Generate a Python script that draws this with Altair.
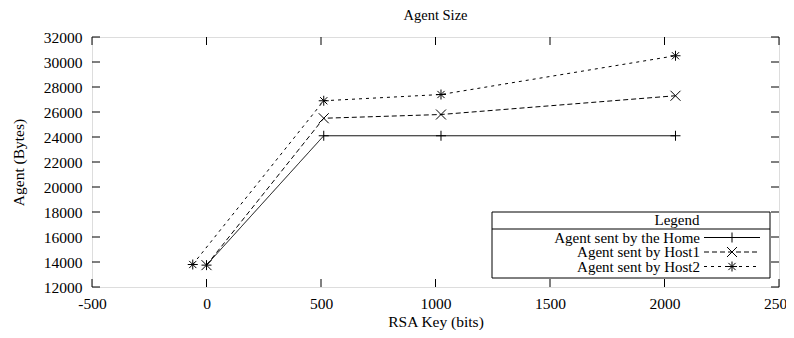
import altair as alt
import pandas as pd

# ---- data ----
series_names = ["Agent sent by the Home", "Agent sent by Host1", "Agent sent by Host2"]
key_home = [0, 512, 1024, 2048]
size_home = [13750, 24100, 24100, 24100]
key_host1 = [0, 512, 1024, 2048]
size_host1 = [13750, 25500, 25800, 27300]
key_host2 = [-60, 512, 1024, 2048]
size_host2 = [13800, 26900, 27400, 30500]
x_ticks = [-500, 0, 500, 1000, 1500, 2000, 2500]
y_ticks = [12000, 14000, 16000, 18000, 20000, 22000, 24000, 26000, 28000, 30000, 32000]

rows = []
for name, ks, vs in zip(series_names, [key_home, key_host1, key_host2],
                        [size_home, size_host1, size_host2]):
    for k, v in zip(ks, vs):
        rows.append({"series": name, "key": k, "size": v})
df = pd.DataFrame(rows)

W, H = 687, 250
FONT = "Liberation Serif"
FS = 15.5
LFS = 15

PLUS = "M-1,0L1,0M0,-1L0,1"
CROSS = "M-1,-1L1,1M-1,1L1,-1"
STAR = "M-1,0L1,0M0,-1L0,1M-0.72,-0.72L0.72,0.72M-0.72,0.72L0.72,-0.72"
shapes = [PLUS, CROSS, STAR]
dashes = [[1, 0], [5, 3], [3, 4]]

xscale = alt.Scale(domain=[-500, 2500], nice=False, zero=False)
yscale = alt.Scale(domain=[12000, 32000], nice=False, zero=False)

xaxis = alt.Axis(values=x_ticks, labelExpr="'' + datum.value", grid=False, ticks=False, tickSize=0,
                 domain=False,
                 labelFont=FONT, labelFontSize=FS, labelColor="black", labelPadding=9,
                 labelFlush=False, labelOverlap=False, labelBound=False,
                 title="RSA Key (bits)", titleFont=FONT, titleFontSize=FS, titleFontWeight="normal",
                 titleColor="black", titleX=W / 2, titleY=34, titleBaseline="middle")
yaxis = alt.Axis(values=y_ticks, labelExpr="'' + datum.value", grid=False, ticks=False, tickSize=0,
                 domain=False,
                 labelFont=FONT, labelFontSize=FS, labelColor="black", labelPadding=10,
                 labelFlush=False, labelOverlap=False,
                 title="Agent (Bytes)", titleFont=FONT, titleFontSize=FS, titleFontWeight="normal",
                 titleColor="black", titleX=-74, titleY=H / 2, titleAngle=-90,
                 titleAlign="center", titleBaseline="middle")

base = alt.Chart(df)
lines = base.mark_line(color="black", strokeWidth=1).encode(
    x=alt.X("key:Q", scale=xscale, axis=xaxis),
    y=alt.Y("size:Q", scale=yscale, axis=yaxis),
    detail="series:N",
    strokeDash=alt.StrokeDash("series:N", scale=alt.Scale(domain=series_names, range=dashes), legend=None),
)
points = base.mark_point(color="black", filled=False, strokeWidth=1, size=100, opacity=1).encode(
    x=alt.X("key:Q", scale=xscale, axis=xaxis),
    y=alt.Y("size:Q", scale=yscale, axis=yaxis),
    shape=alt.Shape("series:N", scale=alt.Scale(domain=series_names, range=shapes), legend=None),
)

# inward ticks on all four sides
TL = 8
xt = alt.Chart(pd.DataFrame({"key": x_ticks}))
yt = alt.Chart(pd.DataFrame({"size": y_ticks}))
tick_b = xt.mark_rule(color="black", strokeWidth=1).encode(
    x=alt.X("key:Q", scale=xscale, axis=xaxis), y=alt.value(H), y2=alt.value(H - TL))
tick_t = xt.mark_rule(color="black", strokeWidth=1).encode(
    x=alt.X("key:Q", scale=xscale, axis=xaxis), y=alt.value(0), y2=alt.value(TL))
tick_l = yt.mark_rule(color="black", strokeWidth=1).encode(
    y=alt.Y("size:Q", scale=yscale, axis=yaxis), x=alt.value(0), x2=alt.value(TL))
tick_r = yt.mark_rule(color="black", strokeWidth=1).encode(
    y=alt.Y("size:Q", scale=yscale, axis=yaxis), x=alt.value(W), x2=alt.value(W - TL))

# legend box (gnuplot style)
one = alt.Chart(pd.DataFrame({"a": [0]}))
bx0, bx1, by0, by1 = 400, 678, 175, 241
sep_y = 192
box = one.mark_rect(fill="white", stroke="black", strokeWidth=1).encode(
    x=alt.value(bx0), x2=alt.value(bx1), y=alt.value(by0), y2=alt.value(by1))
sep = one.mark_rule(color="black", strokeWidth=1).encode(
    x=alt.value(bx0), x2=alt.value(bx1), y=alt.value(sep_y))
leg_title = one.mark_text(text="Legend", font=FONT, fontSize=LFS, color="black",
                          align="center", baseline="middle").encode(
    x=alt.value(585), y=alt.value(183))

legend_layers = [box, sep, leg_title]
row_y = [200.5, 215, 229.5]
for name, yy, dsh, shp in zip(series_names, row_y, dashes, shapes):
    legend_layers.append(one.mark_text(text=name, font=FONT, fontSize=LFS, color="black",
                                       align="right", baseline="middle").encode(
        x=alt.value(608), y=alt.value(yy)))
    legend_layers.append(one.mark_rule(color="black", strokeWidth=1, strokeDash=dsh).encode(
        x=alt.value(612), x2=alt.value(668), y=alt.value(yy)))
    legend_layers.append(one.mark_point(color="black", filled=False, strokeWidth=1, size=100,
                                        opacity=1, shape=shp).encode(
        x=alt.value(640), y=alt.value(yy)))

chart = alt.layer(lines, points, tick_b, tick_t, tick_l, tick_r, *legend_layers).properties(
    width=W, height=H,
    title=alt.TitleParams("Agent Size", font=FONT, fontSize=FS - 1, fontWeight="normal",
                          color="black", anchor="middle", offset=7),
    autosize=alt.AutoSizeParams(type="none"),
    padding={"left": 84, "top": 29, "right": 7, "bottom": 43},
).configure_view(stroke="black", strokeWidth=1.2).configure(background="white")

chart.save("out.html", embed_options={"renderer": "svg", "actions": False})
